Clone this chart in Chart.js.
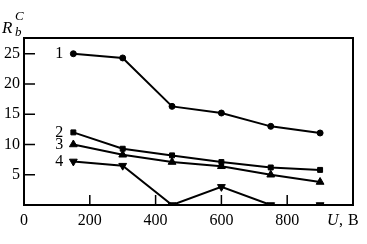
<!DOCTYPE html>
<html>
<head>
<meta charset="utf-8">
<script src="https://cdn.jsdelivr.net/npm/chart.js@4.4.0/dist/chart.umd.min.js"></script>
<style>
  html, body { margin: 0; padding: 0; background: #fff; }
  #wrap { width: 367px; height: 244px; }
</style>
</head>
<body>
<div id="wrap"><canvas id="chart" width="367" height="244"></canvas></div>
<script>
// voltages (x) and the four curves
const voltages = [150, 300, 450, 600, 750, 900];
const curve1 = [25, 24.3, 16.3, 15.2, 13, 11.9];
const curve2 = [12, 9.3, 8.2, 7.1, 6.2, 5.8];
const curve3 = [10, 8.3, 7.1, 6.4, 5.0, 3.8];
const curve4 = [7.2, 6.5, 0, 3, 0, 0];
const curveNames = ['1', '2', '3', '4'];
const xTickValues = [0, 200, 400, 600, 800];
const yTickValues = [5, 10, 15, 20, 25];

const serif = '"Liberation Serif", "DejaVu Serif", serif';

function toPoints(ys) {
  return ys.map((y, i) => ({ x: voltages[i], y: y }));
}

function makeSet(ys, style, radius, rotation) {
  return {
    data: toPoints(ys),
    borderColor: '#000',
    backgroundColor: '#000',
    borderWidth: 2,
    pointStyle: style,
    pointRadius: radius,
    pointRotation: rotation || 0,
    pointBorderWidth: 1,
    tension: 0
  };
}

// frame, inward ticks, tick labels, curve numbers and axis titles
const decor = {
  id: 'decor',
  afterDraw(chart) {
    const ctx = chart.ctx;
    const a = chart.chartArea;
    const xs = chart.scales.x, ys = chart.scales.y;
    ctx.save();
    ctx.strokeStyle = '#000';
    ctx.lineWidth = 2;
    ctx.strokeRect(a.left, a.top, a.right - a.left, a.bottom - a.top);

    ctx.lineWidth = 1.5;
    ctx.beginPath();
    yTickValues.forEach(v => {
      const py = ys.getPixelForValue(v);
      ctx.moveTo(a.left, py);
      ctx.lineTo(a.left + 11, py);
    });
    xTickValues.filter(v => v > 0).forEach(v => {
      const px = xs.getPixelForValue(v);
      ctx.moveTo(px, a.bottom);
      ctx.lineTo(px, a.bottom - 10);
    });
    ctx.stroke();

    ctx.fillStyle = '#000';
    ctx.font = '16px ' + serif;
    ctx.textBaseline = 'middle';
    ctx.textAlign = 'right';
    yTickValues.forEach(v => ctx.fillText(String(v), a.left - 4, ys.getPixelForValue(v)));
    ctx.textAlign = 'center';
    xTickValues.forEach(v => ctx.fillText(String(v), xs.getPixelForValue(v), a.bottom + 16));

    // curve numbers left of the first point
    chart.data.datasets.forEach((ds, i) => {
      const pt = chart.getDatasetMeta(i).data[0];
      ctx.fillText(curveNames[i], pt.x - 14, pt.y);
    });

    // y axis title R_b^C
    ctx.textAlign = 'left';
    ctx.textBaseline = 'alphabetic';
    ctx.font = 'italic 17px ' + serif;
    ctx.fillText('R', 2, 33);
    ctx.font = 'italic 13px ' + serif;
    ctx.fillText('b', 15, 36);
    ctx.fillText('C', 15, 20);

    // x axis title U, B
    ctx.textBaseline = 'middle';
    ctx.font = 'italic 16px ' + serif;
    ctx.fillText('U', 327, a.bottom + 16);
    ctx.font = '16px ' + serif;
    ctx.fillText(',', 339, a.bottom + 16);
    ctx.fillText('B', 348, a.bottom + 16);
    ctx.restore();
  }
};

new Chart(document.getElementById('chart'), {
  type: 'line',
  data: {
    datasets: [
      makeSet(curve1, 'circle', 3),
      makeSet(curve2, 'rect', 3.5),
      makeSet(curve3, 'triangle', 4.5),
      makeSet(curve4, 'triangle', 4.5, 180)
    ]
  },
  options: {
    responsive: false,
    animation: false,
    layout: { padding: { left: 0, top: 38, right: 14, bottom: 0 } },
    plugins: { legend: { display: false }, tooltip: { enabled: false } },
    scales: {
      x: {
        type: 'linear',
        min: 0,
        max: 1000,
        afterBuildTicks: s => { s.ticks = xTickValues.map(v => ({ value: v })); },
        afterFit: s => { s.height = 39; },
        grid: { display: false },
        border: { display: false },
        ticks: { display: false }
      },
      y: {
        min: 0,
        max: 27.6,
        afterBuildTicks: s => { s.ticks = yTickValues.map(v => ({ value: v })); },
        afterFit: s => { s.width = 24; },
        grid: { display: false },
        border: { display: false },
        ticks: { display: false }
      }
    }
  },
  plugins: [decor]
});
</script>
</body>
</html>
